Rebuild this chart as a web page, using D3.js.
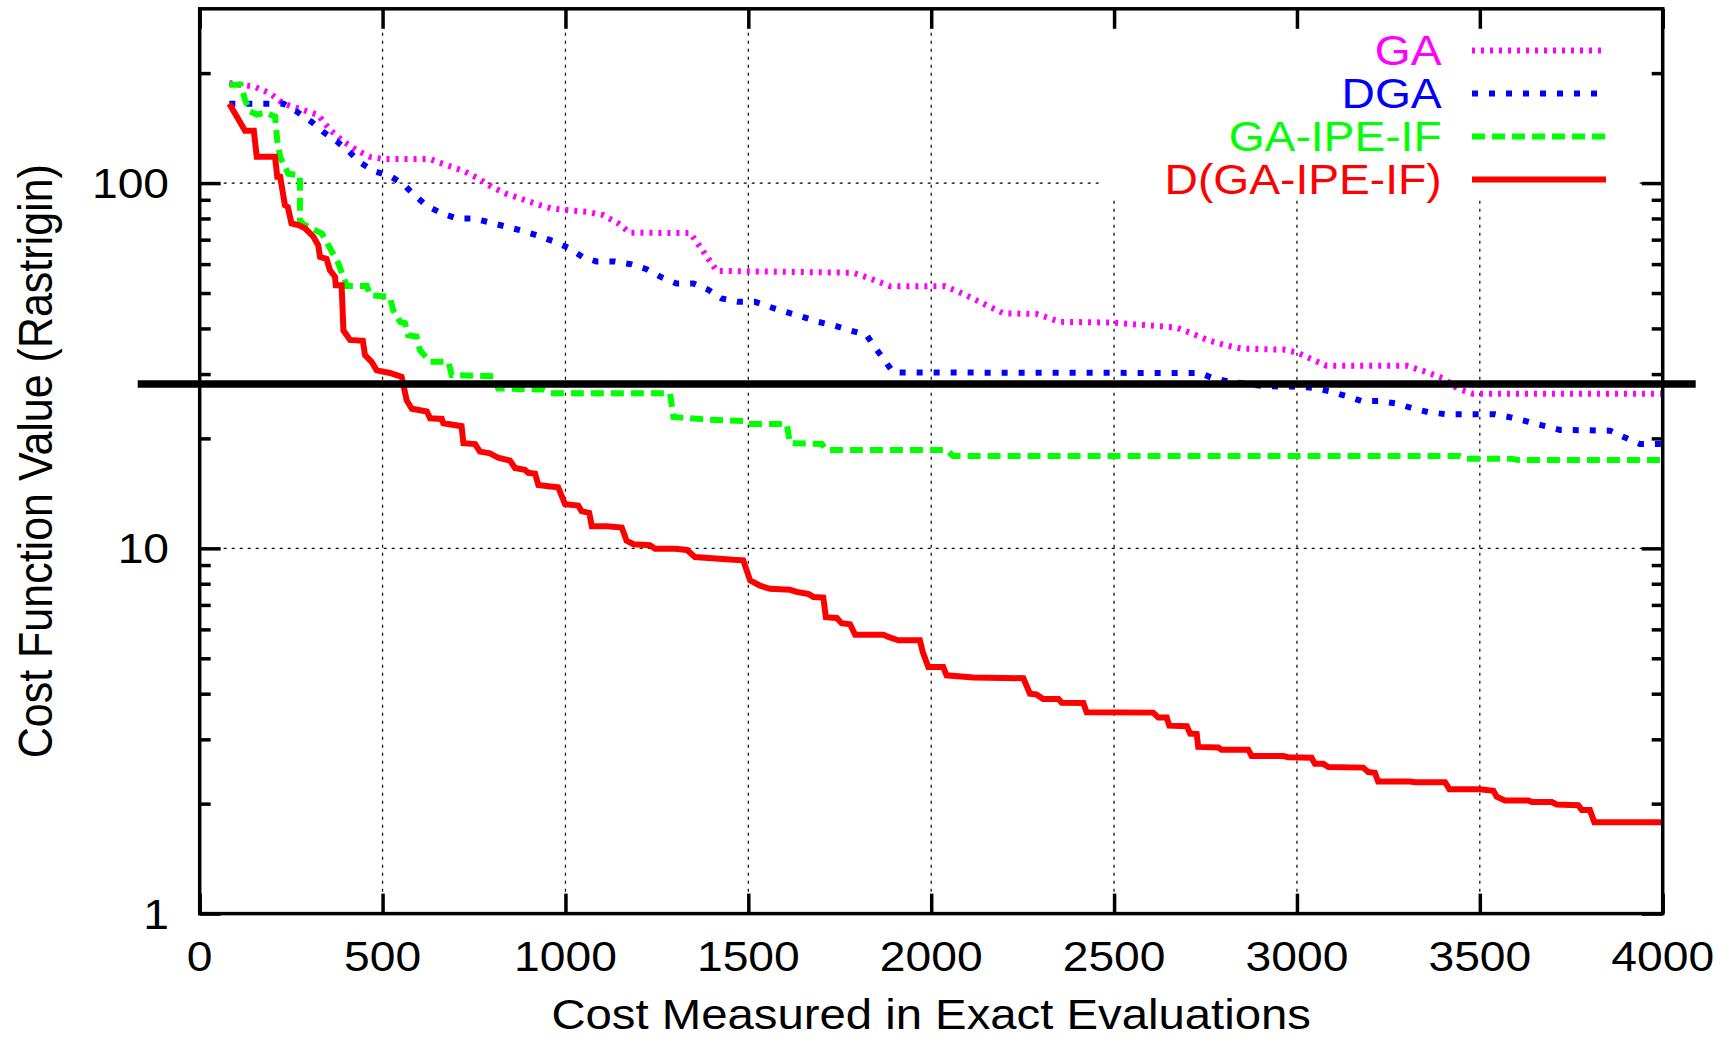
<!DOCTYPE html>
<meta charset="utf-8">
<style>
    body {
        margin: 0;
        background: #ffffff;
    }
    text {
        font-family: "Liberation Sans", Arial, Helvetica, sans-serif;
    }
</style>
<body>
<script src="https://cdn.jsdelivr.net/npm/d3@7/dist/d3.min.js"></script>
<script>

    // ---- data: [cost in exact evaluations, cost function value]
    const seriesNames = ["GA", "DGA", "GA-IPE-IF", "D(GA-IPE-IF)"];

    const gaData = [
        [81, 188], [151, 183.5], [192, 176], [229, 165], [283, 158.5], [324, 153.6], [356, 140],
        [393, 130], [429, 123], [466, 118], [502, 116.3], [630, 116.3], [675, 112], [721, 108],
        [762, 103], [798, 97.7], [835, 93.7], [876, 90.8], [921, 87.6], [962, 85.2], [1008, 84.3],
        [1058, 83.5], [1103, 81.7], [1145, 77.5], [1176, 73.1], [1341, 73], [1359, 69], [1377, 64.9],
        [1414, 57.5], [1787, 56.8], [1833, 54.8], [1887, 52.2], [2038, 52.2], [2088, 49.7],
        [2138, 47], [2197, 44], [2288, 43.8], [2352, 41.7], [2498, 41.5], [2671, 40.2], [2717, 38.6],
        [2758, 37.1], [2799, 36.1], [2849, 35.2], [2963, 35], [2999, 34.4], [3036, 33.1],
        [3081, 31.6], [3300, 31.6], [3345, 30.6], [3400, 29.2], [3441, 27.3], [3482, 26.5], [4000, 26.5]
    ];

    const dgaData = [
        [81, 165], [229, 165], [265, 157], [306, 147], [338, 138], [375, 130], [406, 122.6],
        [438, 114], [475, 108], [520, 104.7], [557, 99.2], [589, 92.3], [621, 86.7], [662, 82.6],
        [703, 80], [748, 80], [794, 78], [839, 75.9], [885, 73.9], [926, 71.7], [967, 69.3],
        [1008, 66.5], [1049, 62.6], [1085, 61], [1135, 61], [1181, 59.9], [1222, 58.1], [1263, 55.2],
        [1304, 53.1], [1350, 53.1], [1391, 51], [1427, 48.3], [1473, 47.3], [1518, 47.3],
        [1559, 45.8], [1605, 44.3], [1646, 43.1], [1691, 41.7], [1737, 40.7], [1778, 39.5],
        [1823, 38.4], [1846, 35.5], [1873, 32.7], [1896, 30.3], [2735, 30.2], [2771, 29.2],
        [2817, 28.6], [2908, 27.8], [2999, 27.7], [3045, 27.5], [3090, 26.9], [3136, 26.1],
        [3177, 25.3], [3227, 25.3], [3273, 24.9], [3314, 24.2], [3359, 23.6], [3405, 23.3],
        [3541, 23.3], [3587, 22.8], [3633, 22.2], [3678, 21.6], [3719, 21.1], [3856, 21.0],
        [3897, 20.1], [3938, 19.3], [4000, 19.3]
    ];

    const gaIpeData = [
        [81, 186], [112, 186], [124, 169], [138, 157], [156, 154], [180, 156], [206, 152],
        [212, 131], [220, 118], [242, 106], [274, 105], [274, 79], [283, 77.2], [334, 72.8],
        [379, 60.3], [402, 52.3], [457, 52.3], [466, 49.3], [520, 48.8], [529, 44.9], [548, 41.7],
        [561, 41.4], [570, 38.3], [593, 38], [602, 34.9], [630, 32.4], [680, 32.4], [689, 29.8],
        [803, 29.6], [816, 27.4], [939, 27.2], [958, 26.6], [1286, 26.6], [1295, 22.9],
        [1395, 22.5], [1491, 22.3], [1500, 21.9], [1605, 21.9], [1614, 19.4], [1701, 19.3],
        [1714, 18.6], [2042, 18.6], [2060, 17.9], [3446, 17.9], [3464, 17.6], [3583, 17.6],
        [3605, 17.45], [4000, 17.45]
    ];

    const dGaIpeData = [
        [81, 165], [124, 139], [148, 139], [156, 118], [206, 118], [212, 104], [220, 104],
        [233, 87], [241, 86], [251, 77.5], [270, 76.7], [288, 75.2], [311, 71.3], [324, 67.6],
        [329, 62.8], [347, 62], [356, 57.8], [370, 55.4], [372, 52.5], [388, 52.5], [393, 39.5],
        [411, 37.2], [446, 37], [452, 33.8], [470, 32.4], [484, 30.7], [520, 30.2], [538, 29.8],
        [552, 29.5], [566, 25.4], [580, 24.1], [621, 23.7], [630, 22.7], [662, 22.6], [666, 22.0],
        [716, 21.6], [721, 19.4], [753, 19.3], [766, 18.4], [794, 18.2], [816, 17.7], [848, 17.4],
        [862, 16.6], [889, 16.4], [898, 16.1], [917, 16.0], [926, 14.9], [953, 14.8], [980, 14.7],
        [999, 13.2], [1035, 13.1], [1044, 12.65], [1065, 12.5], [1072, 11.5], [1113, 11.5],
        [1154, 11.4], [1167, 10.5], [1186, 10.26], [1231, 10.2], [1245, 9.98], [1300, 9.98],
        [1332, 9.9], [1354, 9.47], [1459, 9.3], [1486, 9.27], [1505, 8.17], [1532, 7.9],
        [1559, 7.75], [1614, 7.7], [1632, 7.6], [1664, 7.5], [1678, 7.36], [1705, 7.33],
        [1712, 6.48], [1742, 6.45], [1755, 6.24], [1778, 6.2], [1792, 5.8], [1869, 5.8],
        [1883, 5.72], [1910, 5.6], [1969, 5.6], [1977, 5.2], [1992, 4.73], [2033, 4.73],
        [2042, 4.49], [2115, 4.43], [2252, 4.41], [2270, 4.0], [2288, 3.98], [2306, 3.87],
        [2348, 3.87], [2357, 3.78], [2416, 3.77], [2425, 3.56], [2607, 3.55], [2621, 3.44],
        [2644, 3.44], [2651, 3.27], [2699, 3.26], [2708, 3.11], [2726, 3.1], [2730, 2.86],
        [2785, 2.85], [2794, 2.81], [2867, 2.81], [2876, 2.7], [2963, 2.7], [2976, 2.68],
        [3040, 2.67], [3049, 2.57], [3072, 2.57], [3086, 2.52], [3181, 2.51], [3195, 2.44],
        [3213, 2.43], [3222, 2.30], [3309, 2.30], [3323, 2.29], [3405, 2.29], [3417, 2.19],
        [3500, 2.19], [3537, 2.17], [3546, 2.09], [3569, 2.04], [3633, 2.04], [3642, 2.02],
        [3697, 2.02], [3710, 1.99], [3769, 1.98], [3779, 1.92], [3801, 1.92], [3813, 1.78],
        [4000, 1.78]
    ];

    const threshold = 28.2;

    const xTicks = [0, 500, 1000, 1500, 2000, 2500, 3000, 3500, 4000];
    const xGrid = [500, 1000, 1500, 2000, 2500, 3000, 3500];
    const yTicks = [1, 10, 100];
    const yMinorTicks = [2, 3, 4, 5, 6, 7, 8, 9, 20, 30, 40, 50, 60, 70, 80, 90, 200];
    const yGrid = [10, 100];

    const xTitle = "Cost Measured in Exact Evaluations";
    const yTitle = "Cost Function Value (Rastrigin)";

    // ---- layout
    let width = 1730, height = 1039;
    let plotLeft = 199.7, plotRight = 1662.7, plotTop = 8.8, plotBottom = 913.6;
    let stretch = 1.1;   // the picture's text is a bit wider than the font
    let fontSize = 42, titleSize = 43;

    let svg = d3.select("body").append("svg")
        .attr("width", width)
        .attr("height", height);

    svg.append("rect")
        .attr("width", width)
        .attr("height", height)
        .attr("fill", "#ffffff");

    let x = d3.scaleLinear().domain([0, 4000]).range([plotLeft, plotRight]);
    let y = d3.scaleLog().domain([1, 300]).range([plotBottom, plotTop]);

    let styles = [
        {color: "#ff00ff", dash: "3,6"},
        {color: "#0000ff", dash: "6,11"},
        {color: "#00ff00", dash: "13,7"},
        {color: "#ff0000", dash: null}
    ];
    let series = [gaData, dgaData, gaIpeData, dGaIpeData].map(function (d, i) {
        return {name: seriesNames[i], data: d, color: styles[i].color, dash: styles[i].dash};
    });

    // grid
    let grid = svg.append("g")
        .attr("stroke", "#000")
        .attr("stroke-width", 1.2)
        .attr("stroke-dasharray", "3,5");
    grid.selectAll(".gx").data(xGrid).join("line")
        .attr("class", "gx")
        .attr("x1", d => x(d)).attr("x2", d => x(d))
        .attr("y1", plotTop).attr("y2", plotBottom);
    grid.selectAll(".gy").data(yGrid).join("line")
        .attr("class", "gy")
        .attr("x1", plotLeft).attr("x2", plotRight)
        .attr("y1", d => y(d)).attr("y2", d => y(d));

    // opaque key box
    svg.append("rect")
        .attr("x", 1103)
        .attr("y", plotTop + 2)
        .attr("width", 534)
        .attr("height", 200 - plotTop - 2)
        .attr("fill", "#ffffff");

    // curves
    let line = d3.line()
        .x(d => x(d[0]))
        .y(d => y(d[1]));

    svg.append("g").selectAll("path").data(series).join("path")
        .attr("d", d => line(d.data))
        .attr("fill", "none")
        .attr("stroke", d => d.color)
        .attr("stroke-width", 6)
        .attr("stroke-dasharray", d => d.dash)
        .attr("stroke-linejoin", "miter");

    // frame
    svg.append("rect")
        .attr("x", plotLeft)
        .attr("y", plotTop)
        .attr("width", plotRight - plotLeft)
        .attr("height", plotBottom - plotTop)
        .attr("fill", "none")
        .attr("stroke", "#000")
        .attr("stroke-width", 3.5);

    function ticks(axis, tx, ty) {
        let g = svg.append("g")
            .attr("transform", "translate(" + tx + "," + ty + ")")
            .call(axis);
        g.select(".domain").remove();
        g.selectAll("text").remove();
        g.selectAll("line").attr("stroke", "#000").attr("stroke-width", 3.5);
    }

    ticks(d3.axisBottom(x).tickValues(xTicks).tickSize(-20), 0, plotBottom);
    ticks(d3.axisTop(x).tickValues(xTicks).tickSize(-20), 0, plotTop);
    ticks(d3.axisLeft(y).tickValues(yTicks).tickSize(-21), plotLeft, 0);
    ticks(d3.axisRight(y).tickValues(yTicks).tickSize(-21), plotRight, 0);
    ticks(d3.axisLeft(y).tickValues(yMinorTicks).tickSize(-11), plotLeft, 0);
    ticks(d3.axisRight(y).tickValues(yMinorTicks).tickSize(-11), plotRight, 0);

    // tick labels
    svg.append("g").selectAll("text").data(xTicks).join("text")
        .attr("transform", d => "translate(" + x(d) + ",971) scale(" + stretch + ",1)")
        .attr("text-anchor", "middle")
        .attr("font-size", fontSize)
        .text(d => d);

    svg.append("g").selectAll("text").data(yTicks).join("text")
        .attr("transform", d => "translate(169," + (y(d) + 15) + ") scale(" + stretch + ",1)")
        .attr("text-anchor", "end")
        .attr("font-size", fontSize)
        .text(d => d);

    // axis titles
    svg.append("text")
        .attr("transform", "translate(" + ((plotLeft + plotRight) / 2) + ",1029) scale(" + stretch + ",1)")
        .attr("text-anchor", "middle")
        .attr("font-size", titleSize)
        .text(xTitle);

    svg.append("text")
        .attr("transform", "translate(51.7," + ((plotTop + plotBottom) / 2) + ") scale(" + stretch + ",1) rotate(-90)")
        .attr("text-anchor", "middle")
        .attr("font-size", titleSize)
        .text(yTitle);

    // key
    let key = svg.append("g");
    series.forEach(function (s, i) {
        let cy = 50.5 + 43 * i;
        key.append("text")
            .attr("transform", "translate(1441.6," + (cy + 14.5) + ") scale(" + stretch + ",1)")
            .attr("text-anchor", "end")
            .attr("font-size", fontSize)
            .attr("fill", s.color)
            .text(s.name);
        key.append("line")
            .attr("x1", 1472).attr("x2", 1606)
            .attr("y1", cy).attr("y2", cy)
            .attr("stroke", s.color)
            .attr("stroke-width", 6)
            .attr("stroke-dasharray", s.dash);
    });

    // reference level, drawn over everything and past the frame
    svg.append("line")
        .attr("x1", plotLeft - 62)
        .attr("x2", plotRight + 33)
        .attr("y1", y(threshold))
        .attr("y2", y(threshold))
        .attr("stroke", "#000")
        .attr("stroke-width", 7.5);

</script>
</body>
